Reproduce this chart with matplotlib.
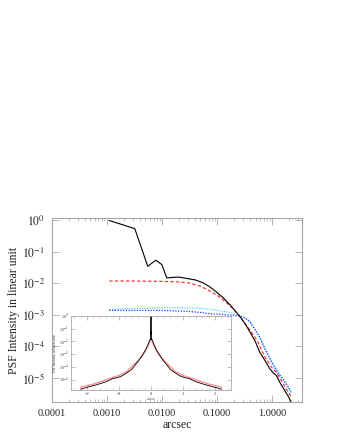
import numpy as np
import matplotlib
matplotlib.use("Agg")
import matplotlib.pyplot as plt
from matplotlib.ticker import FixedLocator, NullLocator, LogLocator, MultipleLocator, NullFormatter

plt.rcParams['font.family'] = ['Liberation Serif', 'DejaVu Serif']
plt.rcParams['mathtext.fontset'] = 'stix'

# ---- data (radius in arcsec, intensity) ----
r_black = [0.0011, 0.0032, 0.0055, 0.0077, 0.0099, 0.0122, 0.015, 0.020, 0.028, 0.040,
           0.056, 0.074, 0.092, 0.13, 0.172, 0.26, 0.33, 0.40, 0.49, 0.60, 0.75, 0.90,
           1.05, 1.2, 1.4, 1.7, 2.0, 2.2]
i_black = [1.0, 0.55, 0.035, 0.055, 0.04, 0.015, 0.0155, 0.016, 0.0145, 0.013,
           0.0105, 0.0078, 0.0058, 0.0035, 0.0021, 9.0e-4, 5.0e-4, 2.8e-4, 1.5e-4, 6.5e-5,
           3.5e-5, 2.0e-5, 1.45e-5, 1.2e-5, 7.0e-6, 4.0e-6, 2.5e-6, 1.8e-6]

r_red = [0.0011, 0.003, 0.01, 0.02, 0.03, 0.05, 0.074, 0.11, 0.17, 0.26, 0.4, 0.53,
         0.75, 1.0, 1.2, 1.5, 1.8, 2.2]
i_red = [0.012, 0.012, 0.0117, 0.0112, 0.0105, 0.0082, 0.0058, 0.0038, 0.002, 9.0e-4,
         3.2e-4, 1.6e-4, 4.5e-5, 2.1e-5, 1.5e-5, 8.0e-6, 4.5e-6, 2.6e-6]

r_cyan = [0.0011, 0.003, 0.01, 0.03, 0.06, 0.1, 0.17, 0.26, 0.33, 0.40, 0.49, 0.6,
          0.75, 1.0, 1.3, 1.6, 2.0, 2.2]
i_cyan = [0.0015, 0.0016, 0.0017, 0.0017, 0.0016, 0.0014, 0.0012, 9.5e-4, 8.0e-4, 6.2e-4,
          3.5e-4, 2.0e-4, 8.5e-5, 3.2e-5, 1.5e-5, 9.0e-6, 4.7e-6, 3.0e-6]

r_blue = [0.0011, 0.003, 0.01, 0.03, 0.05, 0.074, 0.12, 0.17, 0.26, 0.33, 0.40, 0.49,
          0.6, 0.75, 1.0, 1.3, 1.6, 2.0, 2.2]
i_blue = [0.0014, 0.0014, 0.0014, 0.0013, 0.0012, 0.0011, 0.00105, 0.001, 9.3e-4, 7.8e-4,
          6.0e-4, 3.4e-4, 1.9e-4, 8.0e-5, 3.0e-5, 1.4e-5, 9.0e-6, 5.0e-6, 3.7e-6]

x_ticks = [1e-4, 1e-3, 1e-2, 1e-1, 1.0]
x_ticklabels = ['0.0001', '0.0010', '0.0100', '0.1000', '1.0000']
y_ticks = [1e0, 1e-1, 1e-2, 1e-3, 1e-4, 1e-5]
y_ticklabels = [r'$10^{0}$', r'$10^{-1}$', r'$10^{-2}$', r'$10^{-3}$', r'$10^{-4}$', r'$10^{-5}$']
inset_x_ticks = [-2, -1, 0, 1, 2]
inset_y_ticks = [1e0, 1e-1, 1e-2, 1e-3, 1e-4, 1e-5]

frame_col = '#a8a8a8'

fig = plt.figure(figsize=(3.37, 4.36), dpi=100)
ax = fig.add_axes([52/337, 1-402/436, 250/337, 184/436])

ax.plot(r_black, i_black, color='black', lw=0.8, zorder=5)
ax.plot(r_red, i_red, color='#ff2020', lw=0.8, ls=(0, (3, 2)), zorder=4)
ax.plot(r_cyan, i_cyan, color='#40e0f0', lw=0.9, ls=(0, (1, 1)), zorder=3)
ax.plot(r_blue, i_blue, color='#3030ff', lw=0.9, ls=(0, (1, 1.2)), zorder=3)

ax.set_xscale('log')
ax.set_yscale('log')
ax.set_xlim(1e-4, 3.5)
ax.set_ylim(1.73e-6, 1.2)
ax.xaxis.set_major_locator(FixedLocator(x_ticks))
ax.set_xticklabels(x_ticklabels)
ax.xaxis.set_minor_locator(LogLocator(base=10, subs=np.arange(2, 10)))
ax.xaxis.set_minor_formatter(NullFormatter())
ax.yaxis.set_major_locator(FixedLocator(y_ticks))
ax.set_yticklabels(y_ticklabels)
ax.yaxis.set_minor_locator(NullLocator())
ax.tick_params(which='both', direction='in', top=True, right=True, color=frame_col,
               labelcolor='#222222')
ax.tick_params(axis='x', labelsize=7.5)
ax.tick_params(axis='y', labelsize=8.5)
ax.tick_params(which='major', length=5, width=0.6, pad=5)
ax.tick_params(which='minor', length=2.5, width=0.5)
for s in ax.spines.values():
    s.set_color(frame_col)
    s.set_linewidth(0.8)
ax.set_xlabel('arcsec', fontsize=8.5, color='#222222', labelpad=1)
ax.set_ylabel('PSF Intensity in linear unit', fontsize=8.5, color='#222222', labelpad=1)

# ---- inset: mirrored profile on a linear axis ----
ins = fig.add_axes([71/337, 1-390/436, 160/337, 74/436])
xb = np.concatenate([-np.array(r_black)[::-1], np.array(r_black)])
yb = np.concatenate([np.array(i_black)[::-1], np.array(i_black)])
xr = np.concatenate([-np.array(r_red)[::-1], np.array(r_red)])
yr = np.concatenate([np.array(i_red)[::-1], np.array(i_red)])
ins.plot(xr, yr, color='#ff9090', lw=1.0)
ins.plot(xb, yb, color='black', lw=0.6)
ins.set_yscale('log')
ins.set_xlim(-2.5, 2.5)
ins.set_ylim(1.55e-6, 1.0)
ins.xaxis.set_major_locator(FixedLocator(inset_x_ticks))
ins.xaxis.set_minor_locator(MultipleLocator(0.2))
ins.yaxis.set_major_locator(FixedLocator(inset_y_ticks))
ins.set_yticklabels(y_ticklabels)
ins.yaxis.set_minor_locator(NullLocator())
ins.tick_params(which='both', direction='in', top=True, right=True, color=frame_col,
                labelsize=3.2, labelcolor='#333333', pad=1.5)
ins.tick_params(which='major', length=3, width=0.5)
ins.tick_params(which='minor', length=1.5, width=0.4)
for s in ins.spines.values():
    s.set_color(frame_col)
    s.set_linewidth(0.6)
ins.set_xlabel('arcsec', fontsize=2.5, labelpad=0.5, color='#333333')
ins.set_ylabel('PSF Intensity in linear unit', fontsize=2.5, labelpad=1, color='#333333')

fig.savefig('out.png', dpi=100)
